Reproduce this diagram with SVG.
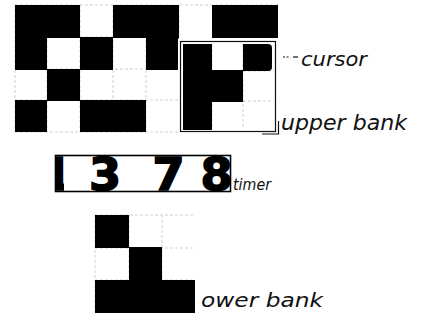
<svg xmlns="http://www.w3.org/2000/svg" width="422" height="320" viewBox="0 0 422 320">
<style>
.b{fill:#000}
.g{stroke:#c4c4c4;stroke-width:0.8;stroke-dasharray:3 2;fill:none}
.lbl{font-family:"DejaVu Sans",sans-serif;font-style:oblique;fill:#111}
.dig{font-family:"DejaVu Sans",sans-serif;font-weight:bold;fill:#000;stroke:#000;stroke-width:1.6;text-anchor:middle;font-size:44px}
.ln{stroke:#111;stroke-width:1.2;fill:none}
</style>
<defs>
<clipPath id="tclip"><rect x="55" y="156" width="175" height="35"/></clipPath>
<clipPath id="oneclip"><rect x="55" y="156" width="9" height="35"/></clipPath>
</defs>
<rect width="422" height="320" fill="#fff"/>

<g id="top-grid">
<path class="g" d="M15 5V132M47 5V132M80 5V132M113 5V132M146 5V132M179 5V132M15 5H278M15 37H179M15 69H179M15 100H179M15 132H179"/>
<rect class="b" x="15" y="5" width="65" height="33"/>
<rect class="b" x="113" y="5" width="66" height="33"/>
<rect class="b" x="212" y="5" width="66" height="33"/>
<rect class="b" x="15" y="37" width="32" height="33"/>
<rect class="b" x="80" y="37" width="33" height="33"/>
<rect class="b" x="146" y="37" width="33" height="33"/>
<rect class="b" x="47" y="69" width="33" height="32"/>
<rect class="b" x="15" y="100" width="32" height="32"/>
<rect class="b" x="80" y="100" width="66" height="32"/>
</g>

<g id="upper-bank">
<rect x="178" y="38.5" width="102" height="96" fill="#fff"/>
<rect class="ln" x="180.5" y="41.5" width="95" height="90"/>
<path class="g" d="M212 44V129M243 44V129M183 101H274M183 71H274"/>
<rect class="b" x="183" y="44" width="29" height="86"/>
<rect class="b" x="183" y="70" width="60" height="32"/>
<path class="b" d="M243 44H268Q272 44 272 48V67Q272 71 268 71H243Z"/>
</g>

<g id="timer">
<rect x="55.5" y="155.5" width="175" height="36" fill="#fff" stroke="#000" stroke-width="1.6"/>
<g clip-path="url(#oneclip)">
<text class="dig" transform="translate(57,190) scale(1.05,1)">1</text>
</g>
<g clip-path="url(#tclip)">
<text class="dig" transform="translate(105,190) scale(1.05,1)">3</text>
<text class="dig" transform="translate(168.5,190) scale(1.05,1)">7</text>
<text class="dig" transform="translate(216.5,190) scale(1.05,1)">8</text>
</g>
</g>

<g id="lower-bank">
<path class="g" d="M95 215V312M129 215V312M162 215V312M95 215H195M95 248H195M95 280H195M95 312H195"/>
<rect class="b" x="95" y="215" width="34" height="33"/>
<rect class="b" x="129" y="247" width="33" height="34"/>
<rect class="b" x="95" y="280" width="100" height="33"/>
</g>

<g id="connectors">
<path class="ln" d="M283 57H290" stroke-dasharray="2 1.5" stroke="#777"/>
<path class="ln" d="M293 57H298"/>
<path class="ln" d="M262 134H278.5V121"/>
</g>

<g id="labels">
<text class="lbl" x="301" y="66" font-size="20" textLength="66" lengthAdjust="spacingAndGlyphs">cursor</text>
<text class="lbl" x="281" y="130" font-size="21" textLength="126" lengthAdjust="spacingAndGlyphs">upper bank</text>
<text class="lbl" x="233" y="190" font-size="15" textLength="38" lengthAdjust="spacingAndGlyphs">timer</text>
<text class="lbl" x="201" y="307" font-size="19" textLength="122" lengthAdjust="spacingAndGlyphs">ower bank</text>
</g>
</svg>
